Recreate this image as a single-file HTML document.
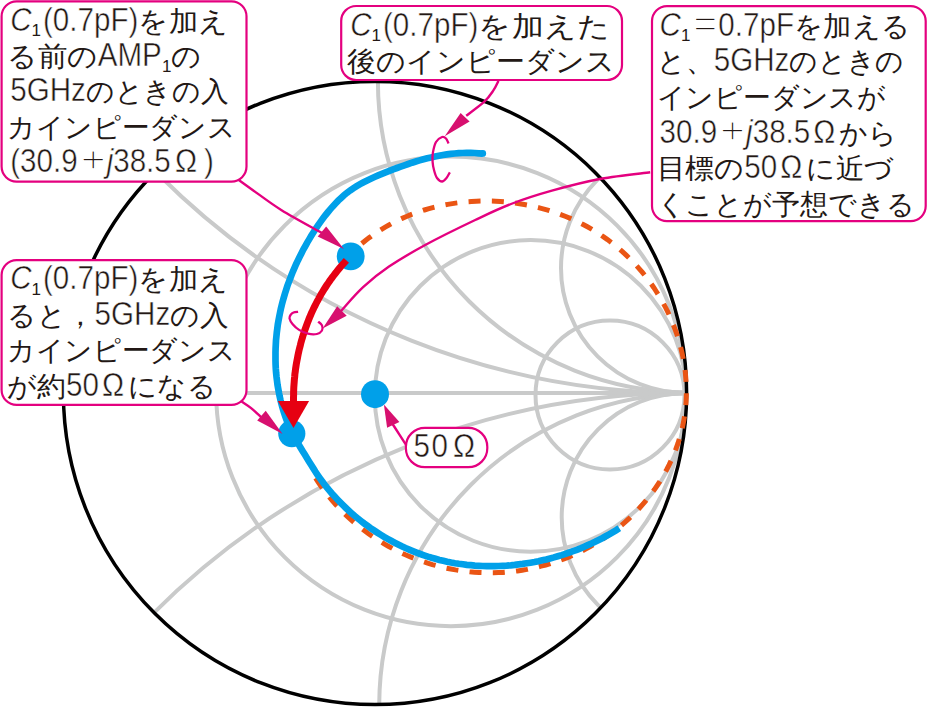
<!DOCTYPE html><html><head><meta charset="utf-8"><style>
html,body{margin:0;padding:0;background:#fff;}
body{width:928px;height:707px;position:relative;overflow:hidden;font-family:"Liberation Sans",sans-serif;color:#231815}
text{font-family:'Liberation Sans',sans-serif;font-size:28px}
.lt{font-size:33.4px;stroke:#fff;stroke-width:0.5px}
.jp{font-size:28px}
.it{font-style:italic}
.sb{font-size:17px}
.pl{font-size:36px;stroke-width:1.4px}
</style></head><body>
<svg width="928" height="707" viewBox="0 0 928 707" style="position:absolute;left:0;top:0"><defs><clipPath id="cc"><circle cx="375.0" cy="393.0" r="311.6"/></clipPath></defs><g clip-path="url(#cc)" fill="none" stroke="#c9caca" stroke-width="4"><line x1="0" y1="393" x2="928" y2="393"/><circle cx="450.9" cy="391.4" r="234.8"/><circle cx="530.6" cy="395.9" r="155.8"/><circle cx="610" cy="395" r="74.5"/><circle cx="689.2" cy="81.1" r="311.3"/><circle cx="691.6" cy="705.9" r="312.4"/><circle cx="686" cy="-353.0" r="746.0"/><circle cx="686" cy="1147.0" r="754.0"/><circle cx="686" cy="268.0" r="125.0"/><circle cx="686" cy="517.3" r="124.3"/></g><circle cx="375.0" cy="393.0" r="311.6" fill="none" stroke="#000" stroke-width="3.5"/><path d="M361.8,243.5 L365.5,240.5 L369.3,237.6 L373.2,234.8 L377.1,232.1 L381.1,229.6 L385.2,227.1 L389.4,224.8 L393.6,222.5 L397.8,220.4 L402.1,218.4 L406.5,216.5 L410.9,214.7 L415.4,213.0 L419.9,211.5 L424.4,210.0 L429.0,208.7 L433.7,207.4 L438.3,206.3 L443.0,205.3 L447.7,204.4 L452.4,203.6 L457.2,202.9 L461.9,202.3 L466.7,201.8 L471.5,201.5 L476.3,201.2 L481.1,201.1 L486.0,201.0 L490.8,201.1 L495.6,201.2 L500.4,201.5 L505.2,201.9 L510.0,202.4 L514.8,203.0 L519.6,203.7 L524.3,204.5 L529.1,205.4 L533.8,206.5 L538.5,207.6 L543.1,208.8 L547.7,210.1 L552.3,211.6 L556.9,213.1 L561.4,214.8 L565.8,216.5 L570.3,218.4 L574.6,220.3 L579.0,222.4 L583.2,224.5 L587.4,226.8 L591.6,229.2 L595.7,231.6 L599.7,234.2 L603.6,236.9 L607.5,239.6 L611.3,242.5 L615.1,245.5 L618.8,248.5 L622.4,251.6 L625.9,254.9 L629.3,258.2 L632.7,261.6 L635.9,265.0 L639.1,268.6 L642.2,272.2 L645.2,275.9 L648.1,279.7 L651.0,283.6 L653.7,287.5 L656.3,291.5 L658.9,295.6 L661.3,299.7 L663.6,303.9 L665.9,308.1 L668.0,312.4 L670.0,316.8 L671.9,321.2 L673.7,325.7 L675.4,330.2 L677.0,334.8 L678.4,339.4 L679.8,344.0 L681.0,348.7 L682.1,353.3 L683.1,358.1 L683.9,362.8 L684.7,367.6 L685.3,372.3 L685.7,377.1 L686.1,381.9 L686.3,386.7 L686.4,391.5 L686.3,396.3 L686.1,401.0 L685.8,405.8 L685.3,410.5 L684.7,415.2 L683.9,419.9 L683.0,424.6 L682.0,429.2 L680.8,433.8 L679.5,438.4 L678.1,442.9 L676.5,447.4 L674.9,451.9 L673.0,456.3 L671.1,460.6 L669.1,464.9 L666.9,469.2 L664.6,473.4 L662.2,477.5 L659.7,481.6 L657.1,485.6 L654.4,489.6 L651.6,493.4 L648.7,497.2 L645.7,501.0 L642.5,504.6 L639.3,508.2 L636.0,511.7 L632.6,515.1 L629.2,518.4 L625.6,521.7 L622.0,524.8 L618.2,527.9 L614.5,530.8 L610.6,533.7 L606.6,536.5 L602.6,539.1 L598.6,541.7 L594.4,544.2 L590.2,546.6 L586.0,548.9 L581.7,551.1 L577.3,553.2 L572.9,555.2 L568.5,557.1 L564.0,558.9 L559.5,560.5 L554.9,562.1 L550.3,563.6 L545.7,565.0 L541.0,566.2 L536.3,567.4 L531.6,568.4 L526.9,569.4 L522.1,570.2 L517.4,570.9 L512.6,571.5 L507.8,572.0 L503.1,572.4 L498.3,572.6 L493.5,572.8 L488.7,572.8 L483.9,572.7 L479.2,572.5 L474.4,572.2 L469.6,571.8 L464.9,571.3 L460.2,570.6 L455.5,569.9 L450.8,569.0 L446.1,568.1 L441.5,567.0 L436.9,565.8 L432.3,564.6 L427.7,563.2 L423.2,561.7 L418.7,560.1 L414.2,558.4 L409.8,556.6 L405.4,554.8 L401.1,552.8 L396.8,550.7 L392.5,548.5 L388.3,546.2 L384.2,543.9 L380.1,541.4 L376.1,538.9 L372.1,536.2 L368.2,533.5 L364.3,530.6 L360.5,527.7 L356.8,524.7 L353.1,521.6 L349.5,518.4 L346.0,515.1 L342.6,511.8 L339.2,508.3 L335.9,504.8 L332.7,501.2 L329.6,497.5 L326.5,493.7 L323.6,489.9 L320.7,485.9 L318.0,481.9 L315.3,477.8 L312.7,473.6 L310.2,469.4" fill="none" stroke="#ea5514" stroke-width="5" stroke-dasharray="12 11.3"/><path d="M482.9,153.6 L478.8,153.3 L474.7,153.0 L470.7,152.9 L466.6,152.9 L462.6,153.0 L458.6,153.2 L454.7,153.5 L450.7,153.9 L446.8,154.4 L442.9,155.0 L438.9,155.7 L435.1,156.5 L431.2,157.4 L427.3,158.3 L423.5,159.3 L419.6,160.4 L415.8,161.5 L412.0,162.7 L408.2,164.0 L404.4,165.3 L400.7,166.6 L396.9,168.0 L393.1,169.4 L389.4,170.9 L385.6,172.4 L381.9,173.9 L378.2,175.4 L374.5,177.0 L370.8,178.7 L367.2,180.4 L363.6,182.2 L360.1,184.1 L356.7,186.1 L353.4,188.2 L350.2,190.4 L347.0,192.8 L344.0,195.3 L341.1,197.9 L338.2,200.6 L335.5,203.5 L332.8,206.4 L330.2,209.4 L327.6,212.5 L325.1,215.6 L322.7,218.8 L320.3,222.1 L318.0,225.4 L315.7,228.8 L313.5,232.2 L311.4,235.6 L309.3,239.1 L307.2,242.6 L305.3,246.1 L303.3,249.6 L301.5,253.2 L299.7,256.8 L297.9,260.4 L296.2,264.0 L294.6,267.7 L293.0,271.3 L291.5,275.0 L290.1,278.7 L288.7,282.4 L287.3,286.2 L286.1,290.0 L284.9,293.7 L283.8,297.5 L282.7,301.4 L281.7,305.2 L280.8,309.1 L280.0,312.9 L279.2,316.8 L278.5,320.7 L277.8,324.6 L277.3,328.6 L276.8,332.5 L276.4,336.5 L276.0,340.5 L275.8,344.5 L275.6,348.5 L275.5,352.5 L275.5,356.6 L275.5,360.6 L275.6,364.6 L275.8,368.7 L276.1,372.7 L276.5,376.7 L277.0,380.7 L277.5,384.7 L278.2,388.7 L278.9,392.7 L279.7,396.6 L280.6,400.5 L281.6,404.4 L282.7,408.3 L283.8,412.1 L285.1,415.9 L286.4,419.6 L287.9,423.3 L289.4,426.9 L291.1,430.5 L292.8,434.1 L294.7,437.6 L296.6,441.0 L298.6,444.4 L300.6,447.8 L302.7,451.2 L304.8,454.6 L306.9,458.0 L309.0,461.4 L311.1,464.8 L313.2,468.1 L315.3,471.5 L317.5,474.8 L319.8,478.1 L322.1,481.3 L324.5,484.5 L327.0,487.6 L329.5,490.6 L332.1,493.7 L334.7,496.6 L337.4,499.5 L340.2,502.4 L343.0,505.2 L345.9,508.0 L348.8,510.7 L351.8,513.4 L354.8,516.0 L357.9,518.5 L361.0,521.0 L364.2,523.5 L367.4,525.8 L370.7,528.2 L374.0,530.4 L377.3,532.6 L380.7,534.8 L384.1,536.9 L387.6,538.9 L391.1,540.8 L394.7,542.7 L398.2,544.5 L401.8,546.3 L405.5,548.0 L409.2,549.6 L412.8,551.1 L416.6,552.6 L420.3,554.0 L424.1,555.3 L427.9,556.6 L431.7,557.8 L435.5,558.8 L439.4,559.9 L443.3,560.8 L447.2,561.7 L451.1,562.5 L455.0,563.2 L458.9,563.8 L462.9,564.3 L466.8,564.8 L470.8,565.2 L474.8,565.6 L478.8,565.8 L482.7,566.0 L486.7,566.1 L490.7,566.1 L494.7,566.1 L498.7,566.0 L502.7,565.8 L506.7,565.6 L510.7,565.3 L514.7,564.9 L518.6,564.4 L522.6,563.9 L526.6,563.3 L530.5,562.7 L534.5,562.0 L538.4,561.2 L542.3,560.3 L546.2,559.4 L550.1,558.4 L554.0,557.4 L557.8,556.2 L561.7,555.1 L565.5,553.8 L569.3,552.5 L573.0,551.2 L576.8,549.8 L580.5,548.3 L584.2,546.7 L587.8,545.1 L591.5,543.5 L595.1,541.8 L598.7,540.0 L602.2,538.2 L605.7,536.3 L609.2,534.3 L612.6,532.3 L616.0,530.3 L619.3,528.2" fill="none" stroke="#00a0e9" stroke-width="6.7" stroke-linecap="butt"/><circle cx="482.8" cy="153.4" r="3.35" fill="#00a0e9"/><circle cx="350.7" cy="256.4" r="13.9" fill="#00a0e9"/><circle cx="375.0" cy="394.2" r="14.0" fill="#00a0e9"/><circle cx="291.8" cy="433.6" r="13.6" fill="#00a0e9"/><path d="M346.4,260.4 L344.6,262.4 L342.8,264.3 L341.1,266.3 L339.3,268.4 L337.6,270.4 L336.0,272.5 L334.4,274.5 L332.8,276.7 L331.2,278.8 L329.7,280.9 L328.2,283.1 L326.7,285.3 L325.3,287.5 L323.9,289.7 L322.5,292.0 L321.1,294.3 L319.8,296.6 L318.6,298.9 L317.3,301.2 L316.1,303.5 L314.9,305.9 L313.7,308.2 L312.6,310.6 L311.5,313.0 L310.5,315.4 L309.4,317.9 L308.5,320.3 L307.5,322.8 L306.6,325.2 L305.7,327.7 L304.8,330.2 L304.0,332.7 L303.1,335.2 L302.4,337.8 L301.6,340.3 L300.9,342.8 L300.3,345.4 L299.6,348.0 L299.0,350.5 L298.4,353.1 L297.9,355.7 L297.4,358.3 L296.9,360.9 L296.4,363.5 L296.0,366.1 L295.6,368.7 L295.3,371.3 L294.9,374.0 L294.7,376.6 L294.4,379.2 L294.2,381.9 L294.0,384.5 L293.8,387.2 L293.7,389.8 L293.6,392.4 L293.6,395.1 L293.5,397.7 L293.5,400.4 L293.6,403.0" fill="none" stroke="#e60012" stroke-width="7"/><polygon points="277.8,401.1 309.1,401.1 293.5,428" fill="#e60012"/><g fill="none" stroke="#e4007f" stroke-width="2.4"><path d="M238.4,179.8 C240.9,181.6 246.1,185.3 253.3,190.4 C260.5,195.5 270.2,203.1 281.6,210.2 C293.1,217.3 315.3,229.2 322.0,233.0"/><path d="M498.5,80.8 C497.6,82.4 495.8,86.9 493.4,90.4 C491.0,93.9 488.8,97.5 484.3,101.7 C479.8,105.9 469.2,113.5 466.2,115.8"/><path d="M650.2,172.3 C642.0,173.4 617.4,175.7 601.0,178.8 C584.6,181.9 566.9,186.5 551.9,190.7 C536.9,194.9 523.8,199.1 511.0,204.0 C498.2,208.9 489.5,213.2 475.2,220.0 C460.9,226.8 439.6,237.2 425.2,245.0 C410.8,252.8 399.4,259.6 389.0,266.6 C378.6,273.6 371.1,279.8 363.1,287.2 C355.1,294.6 344.7,307.0 341.0,311.0"/><path d="M241.6,401.5 C243.1,402.6 247.4,405.1 250.8,407.9 C254.2,410.6 260.1,416.3 262.0,418.0"/><path d="M405.9,444.6 C403.9,441.6 396.5,430.1 394.2,426.5 C391.9,422.9 392.4,423.6 392.0,423.0"/></g><polygon points="343.9,249.1 317.7,236.4 326.2,226.5" fill="#d7106f"/><polygon points="444.7,136.2 460.6,113.0 469.6,121.5" fill="#d7106f"/><polygon points="322.6,328.6 337.2,306.2 346.7,315.7" fill="#d7106f"/><polygon points="282.6,434.0 257.2,420.6 265.7,410.7" fill="#d7106f"/><polygon points="383.9,404.5 387.1,427.8 399.4,422.0" fill="#d7106f"/><path d="M448.5,143.4 C448.1,142.6 447.1,139.6 446.0,138.5 C444.9,137.4 443.8,136.4 442.1,137.0 C440.4,137.6 437.5,139.4 436.0,142.0 C434.5,144.6 433.5,149.3 432.9,152.6 C432.3,155.9 432.4,158.9 432.6,161.8 C432.8,164.7 433.3,167.3 434.0,170.0 C434.7,172.7 435.6,176.1 437.0,178.0 C438.4,179.9 440.5,181.5 442.1,181.5 C443.7,181.5 445.2,179.5 446.5,178.0 C447.8,176.5 449.3,173.2 449.9,172.3" fill="none" stroke="#e4007f" stroke-width="2.3"/><path d="M298.1,311.8 C297.3,311.9 294.7,312.0 293.5,312.5 C292.3,313.0 291.5,313.6 290.8,314.6 C290.1,315.6 289.2,316.8 289.5,318.4 C289.8,320.0 291.1,322.3 292.7,324.2 C294.3,326.1 296.6,328.3 299.1,329.9 C301.7,331.5 305.0,333.0 308.0,333.7 C311.0,334.4 314.6,334.5 316.9,334.0 C319.2,333.5 321.1,331.9 322.0,330.5 C322.9,329.1 322.6,326.9 322.0,325.4 C321.4,323.9 318.8,322.2 318.2,321.6" fill="none" stroke="#e4007f" stroke-width="2.3"/></svg>
<svg width="928" height="707" style="position:absolute;left:0;top:0"><rect x="1.6" y="1.3" width="244.9" height="180.3" rx="15.0" ry="15.0" fill="#fff" stroke="#e4007f" stroke-width="2.2"/><rect x="341.2" y="6.0" width="280.8" height="74.0" rx="15.0" ry="15.0" fill="#fff" stroke="#e4007f" stroke-width="2.2"/><rect x="652.0" y="6.1" width="273.7" height="215.0" rx="15.0" ry="15.0" fill="#fff" stroke="#e4007f" stroke-width="2.2"/><rect x="1.6" y="260.1" width="244.9" height="144.8" rx="15.0" ry="15.0" fill="#fff" stroke="#e4007f" stroke-width="2.2"/><rect x="405.9" y="427.8" width="81.4" height="39.4" rx="19.0" ry="19.0" fill="#fff" stroke="#e4007f" stroke-width="2.2"/><g fill="#231815"><text class="lt it" transform="translate(10.2,30.5) scale(0.886,1)">C</text><text class="sb" x="31.6" y="36.0">1</text><text class="lt" transform="translate(43.0,30.5) scale(0.886,1)">(0.7pF)</text><text class="jp" x="138.4" y="30.5" textLength="90.1" lengthAdjust="spacingAndGlyphs">を加え</text><text class="jp" x="7.2" y="66.0" textLength="90.5" lengthAdjust="spacingAndGlyphs">る前の</text><text class="lt" transform="translate(97.7,66.0) scale(0.886,1)">AMP</text><text class="sb" x="161.9" y="71.5">1</text><text class="jp" x="171.3" y="66.0" textLength="30.2" lengthAdjust="spacingAndGlyphs">の</text><text class="lt" transform="translate(10.2,101.4) scale(0.886,1)">5GHz</text><text class="jp" x="85.9" y="101.4" textLength="142.6" lengthAdjust="spacingAndGlyphs">のときの入</text><text class="jp" x="7.2" y="136.8" textLength="228.0" lengthAdjust="spacingAndGlyphs">カインピーダンス</text><text class="lt" transform="translate(10.2,172.1) scale(0.886,1)">(30.9</text><text class="lt pl" x="80.7" y="172.1" textLength="25.0" lengthAdjust="spacingAndGlyphs">+</text><text class="lt it" transform="translate(106.7,172.1) scale(0.886,1)">j</text><text class="lt" transform="translate(113.2,172.1) scale(0.886,1)">38.5</text><text class="lt" transform="translate(174.9,172.1) scale(0.886,1)">Ω</text><text class="lt" transform="translate(204.0,172.1) scale(0.886,1)">)</text><text class="lt it" transform="translate(350.2,35.5) scale(0.886,1)">C</text><text class="sb" x="371.6" y="41.0">1</text><text class="lt" transform="translate(383.0,35.5) scale(0.886,1)">(0.7pF)</text><text class="jp" x="478.4" y="35.5" textLength="131.5" lengthAdjust="spacingAndGlyphs">を加えた</text><text class="jp" x="347.2" y="71.0" textLength="267.6" lengthAdjust="spacingAndGlyphs">後のインピーダンス</text><text class="lt it" transform="translate(659.5,35.7) scale(0.886,1)">C</text><text class="sb" x="680.9" y="41.2">1</text><text class="lt pl" x="693.3" y="35.7" textLength="24.0" lengthAdjust="spacingAndGlyphs">=</text><text class="lt" transform="translate(718.3,35.7) scale(0.886,1)">0.7pF</text><text class="jp" x="794.0" y="35.7" textLength="116.3" lengthAdjust="spacingAndGlyphs">を加える</text><text class="jp" x="656.5" y="71.3" textLength="57.2" lengthAdjust="spacingAndGlyphs">と、</text><text class="lt" transform="translate(713.7,71.3) scale(0.886,1)">5GHz</text><text class="jp" x="789.4" y="71.3" textLength="114.4" lengthAdjust="spacingAndGlyphs">のときの</text><text class="jp" x="656.5" y="106.9" textLength="229.4" lengthAdjust="spacingAndGlyphs">インピーダンスが</text><text class="lt" transform="translate(659.5,142.5) scale(0.886,1)">30.9</text><text class="lt pl" x="720.1" y="142.5" textLength="25.0" lengthAdjust="spacingAndGlyphs">+</text><text class="lt it" transform="translate(746.1,142.5) scale(0.886,1)">j</text><text class="lt" transform="translate(752.7,142.5) scale(0.886,1)">38.5</text><text class="lt" transform="translate(813.3,142.5) scale(0.886,1)">Ω</text><text class="jp" x="839.4" y="142.5" textLength="57.9" lengthAdjust="spacingAndGlyphs">から</text><text class="jp" x="656.5" y="178.0" textLength="87.8" lengthAdjust="spacingAndGlyphs">目標の</text><text class="lt" transform="translate(744.3,178.0) scale(0.886,1)">50</text><text class="lt" transform="translate(780.2,178.0) scale(0.886,1)">Ω</text><text class="jp" x="806.3" y="178.0" textLength="87.8" lengthAdjust="spacingAndGlyphs">に近づ</text><text class="jp" x="656.5" y="213.6" textLength="258.7" lengthAdjust="spacingAndGlyphs">くことが予想できる</text><text class="lt it" transform="translate(10.2,289.3) scale(0.886,1)">C</text><text class="sb" x="31.6" y="294.8">1</text><text class="lt" transform="translate(43.0,289.3) scale(0.886,1)">(0.7pF)</text><text class="jp" x="138.4" y="289.3" textLength="90.1" lengthAdjust="spacingAndGlyphs">を加え</text><text class="jp" x="7.2" y="324.8" textLength="87.4" lengthAdjust="spacingAndGlyphs">ると，</text><text class="lt" transform="translate(94.6,324.8) scale(0.886,1)">5GHz</text><text class="jp" x="170.2" y="324.8" textLength="58.3" lengthAdjust="spacingAndGlyphs">の入</text><text class="jp" x="7.2" y="360.3" textLength="228.0" lengthAdjust="spacingAndGlyphs">カインピーダンス</text><text class="jp" x="7.2" y="395.8" textLength="58.8" lengthAdjust="spacingAndGlyphs">が約</text><text class="lt" transform="translate(66.0,395.8) scale(0.886,1)">50</text><text class="lt" transform="translate(101.9,395.8) scale(0.886,1)">Ω</text><text class="jp" x="128.1" y="395.8" textLength="88.2" lengthAdjust="spacingAndGlyphs">になる</text><text class="lt" transform="translate(413.5,457.3) scale(0.886,1)">5</text><text class="lt" transform="translate(431.5,457.3) scale(0.886,1)">0</text><text class="lt" transform="translate(452.9,457.3) scale(0.886,1)">Ω</text></g></svg>
</body></html>
